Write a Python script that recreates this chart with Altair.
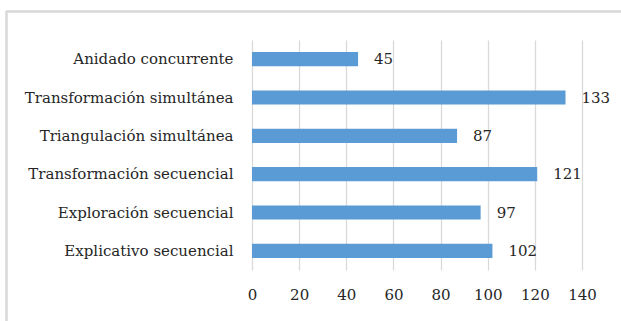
import altair as alt
import pandas as pd

categories = [
    "Anidado concurrente",
    "Transformación simultánea",
    "Triangulación simultánea",
    "Transformación secuencial",
    "Exploración secuencial",
    "Explicativo secuencial",
]
values = [45, 133, 87, 121, 97, 102]
x_ticks = [0, 20, 40, 60, 80, 100, 120, 140]

df = pd.DataFrame({"cat": categories, "val": values})

FONT = "DejaVu Serif"
FS = 15

y_enc = alt.Y(
    "cat:N",
    sort=categories,
    title=None,
    scale=alt.Scale(paddingInner=0.63, paddingOuter=0.315),
    axis=alt.Axis(
        domain=False, ticks=False, labelFont=FONT, labelFontSize=FS,
        labelColor="#262626", labelPadding=19, labelLimit=300,
    ),
)
x_enc = alt.X(
    "val:Q",
    title=None,
    scale=alt.Scale(domain=[0, 140], nice=False),
    axis=alt.Axis(
        values=x_ticks, domain=False, ticks=False, grid=True,
        gridColor="#d9d9d9", gridWidth=1.3, labelFlush=False,
        labelFont=FONT, labelFontSize=FS, labelColor="#262626",
        labelPadding=17,
    ),
)

bars = alt.Chart(df).mark_bar(color="#5B9BD5").encode(x=x_enc, y=y_enc)
labels = alt.Chart(df).mark_text(
    align="left", baseline="middle", dx=16, font=FONT, fontSize=FS, color="#262626"
).encode(x="val:Q", y=alt.Y("cat:N", sort=categories), text="val:Q")

frame_top = alt.Chart(df).mark_rule(color="#d9d9d9", strokeWidth=1.5, clip=False).encode(
    x=alt.value(-246), x2=alt.value(400), y=alt.value(-28.5)
)
frame_left = alt.Chart(df).mark_rule(color="#d9d9d9", strokeWidth=1.5, clip=False).encode(
    x=alt.value(-245.5), y=alt.value(-29), y2=alt.value(300)
)

chart = alt.layer(bars, labels, frame_top, frame_left).properties(
    width=330,
    height=230,
    autosize=alt.AutoSizeParams(type="none"),
    padding={"left": 252, "top": 40, "right": 39, "bottom": 51},
    background="white",
).configure_view(stroke=None)

chart.save("out.html", embed_options={"renderer": "svg", "actions": False})
